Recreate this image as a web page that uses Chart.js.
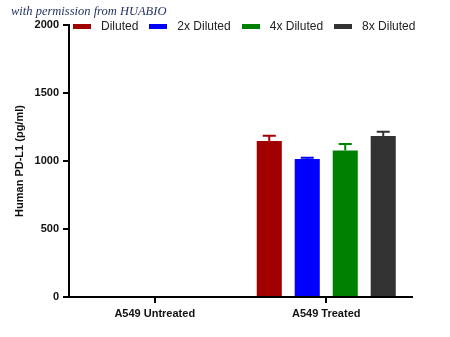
<!DOCTYPE html>
<html>
<head>
<meta charset="utf-8">
<script src="https://cdn.jsdelivr.net/npm/chart.js@4.4.1/dist/chart.umd.min.js"></script>
<style>
  html, body { margin: 0; padding: 0; background: #fff; }
  #wrap { position: relative; width: 450px; height: 337px; }
  #note {
    position: absolute; left: 11px; top: 4px;
    font: italic 12.5px "Liberation Serif", serif;
    color: #1d2f5e; white-space: nowrap;
  }
  #legend {
    position: absolute; left: 73px; top: 20px;
    display: flex; align-items: center;
    font: 12px "Liberation Sans", Arial, sans-serif;
    color: #222; line-height: 13px; white-space: nowrap;
  }
  #legend .item { display: flex; align-items: center; margin-right: 11px; }
  #legend .box { width: 18px; height: 5px; margin-right: 10px; }
</style>
</head>
<body>
<div id="wrap">
  <canvas id="myChart" width="450" height="337"></canvas>
  <div id="note">with permission from HUABIO</div>
  <div id="legend"></div>
</div>
<script>
const groups = ['A549 Untreated', 'A549 Treated'];
const series = ['Diluted', '2x Diluted', '4x Diluted', '8x Diluted'];
const colors = ['#a00000', '#0000ff', '#008000', '#333333'];

// mean values per series, one entry per group
const diluted = [0, 1147];
const diluted2x = [0, 1015];
const diluted4x = [0, 1078];
const diluted8x = [0, 1184];

// upper error (SD) per series
const errDiluted = [0, 39];
const errDiluted2x = [0, 9];
const errDiluted4x = [0, 47];
const errDiluted8x = [0, 31];

const yTicks = [0, 500, 1000, 1500, 2000];

const values = [diluted, diluted2x, diluted4x, diluted8x];
const errors = [errDiluted, errDiluted2x, errDiluted4x, errDiluted8x];

const font = "'Liberation Sans', Arial, sans-serif";

// draws the upward error bars with a cap on every bar
const errorBars = {
    id: 'errorBars',
    afterDatasetsDraw(chart) {
        let ctx = chart.ctx;
        let y = chart.scales.y;
        chart.data.datasets.forEach((ds, i) => {
            let meta = chart.getDatasetMeta(i);
            meta.data.forEach((bar, j) => {
                let err = ds.errors[j];
                if (!err) return;
                let top = y.getPixelForValue(ds.data[j] + err);
                ctx.save();
                ctx.strokeStyle = ds.backgroundColor;
                ctx.lineWidth = 2;
                ctx.beginPath();
                ctx.moveTo(bar.x, bar.y);
                ctx.lineTo(bar.x, top);
                ctx.moveTo(bar.x - 6.5, top);
                ctx.lineTo(bar.x + 6.5, top);
                ctx.stroke();
                ctx.restore();
            });
        });
    }
};

// legend row above the plot
let legend = document.getElementById('legend');
series.forEach((name, i) => {
    let item = document.createElement('div');
    item.className = 'item';
    item.innerHTML = `<span class="box" style="background:${colors[i]}"></span><span>${name}</span>`;
    legend.appendChild(item);
});

let ctx = document.getElementById('myChart').getContext('2d');

new Chart(ctx, {
    type: 'bar',
    data: {
        labels: groups,
        datasets: series.map((name, i) => ({
            label: name,
            data: values[i],
            errors: errors[i],
            backgroundColor: colors[i],
            borderWidth: 0,
            categoryPercentage: 0.886,
            barPercentage: 0.66
        }))
    },
    options: {
        responsive: false,
        animation: false,
        layout: { padding: { left: 0, right: 38, top: 25, bottom: 0 } },
        plugins: {
            legend: { display: false },
            tooltip: { enabled: false }
        },
        scales: {
            x: {
                afterFit: (s) => { s.height = 40; },
                grid: { offset: false, drawOnChartArea: false, drawTicks: true, tickLength: 6, color: '#000', lineWidth: 2 },
                border: { display: true, width: 2, color: '#000' },
                ticks: { color: '#111', padding: 4, font: { family: font, size: 11, weight: 'bold' } }
            },
            y: {
                min: 0,
                max: 2000,
                afterFit: (s) => { s.width = 69; },
                afterBuildTicks: (s) => { s.ticks = yTicks.map(v => ({ value: v })); },
                grid: { drawOnChartArea: false, drawTicks: true, tickLength: 6, color: '#000', lineWidth: 2 },
                border: { display: true, width: 2, color: '#000' },
                ticks: {
                    color: '#111', padding: 4,
                    font: { family: font, size: 11, weight: 'bold' },
                    callback: (v) => String(v)
                },
                title: {
                    display: true,
                    text: 'Human PD-L1 (pg/ml)',
                    color: '#111',
                    padding: { top: 13, bottom: 0 },
                    font: { family: font, size: 11, weight: 'bold' }
                }
            }
        }
    },
    plugins: [errorBars]
});
</script>
</body>
</html>
